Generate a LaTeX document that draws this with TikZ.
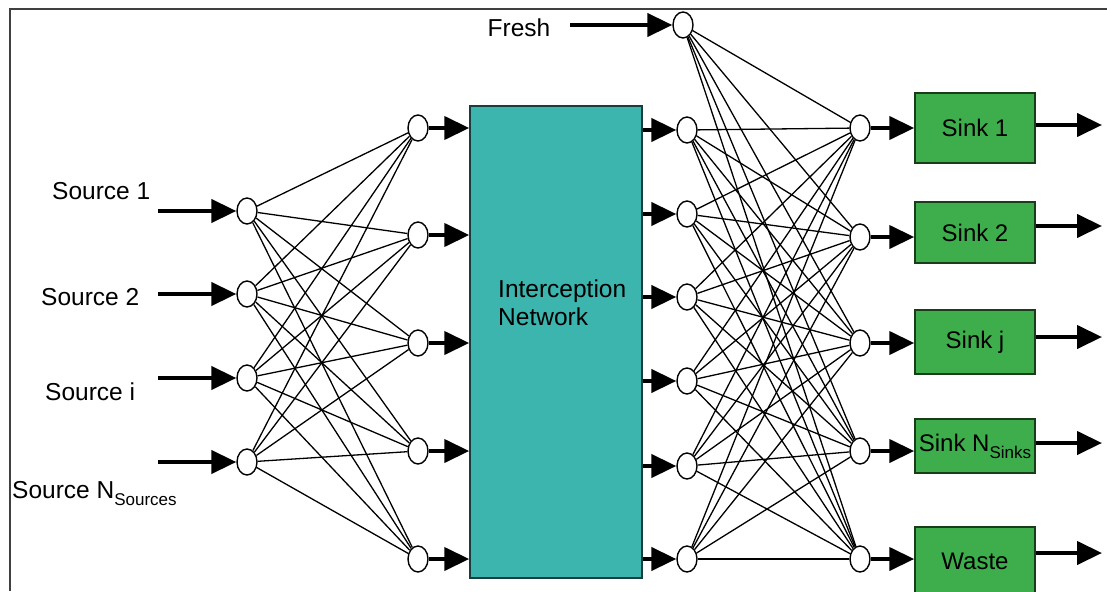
\documentclass[tikz,border=0pt]{standalone}
\usepackage{fontspec}
\setmainfont{Liberation Sans}
\usetikzlibrary{shapes.geometric,arrows.meta}
\definecolor{netteal}{RGB}{59,181,173}
\definecolor{netedge}{RGB}{25,60,60}
\definecolor{sinkgreen}{RGB}{62,174,76}
\definecolor{sinkedge}{RGB}{25,60,25}
\newcommand{\subtxt}[1]{\raisebox{-0.3em}{\fontsize{17}{17}\selectfont #1}}
\begin{document}
\begin{tikzpicture}[x=1pt,y=-1pt,
  junc/.style={ellipse,draw,line width=1.4pt,fill=white,minimum width=20pt,minimum height=26pt,inner sep=0pt},
  link/.style={line width=1.3pt},
  flow/.style={line width=4.2pt,-{Triangle[length=25pt,width=23pt]}},
  lbl/.style={font=\fontsize{24.5}{28}\selectfont,inner sep=0pt},
  sinkbox/.style={draw=sinkedge,line width=1.5pt,fill=sinkgreen,minimum width=120pt,inner sep=0pt,font=\fontsize{24}{28}\selectfont}
]
\useasboundingbox (0,0) rectangle (1107,591);
% page frame (top and left rules)
\draw[line width=2pt,black!75] (9.5,591) -- (9.5,9.5) -- (1107,9.5);

% source splitters
\node[junc] (a1) at (247,211) {};
\node[junc] (a2) at (247,294) {};
\node[junc] (a3) at (247,378) {};
\node[junc] (a4) at (247,462) {};
% mixers feeding the interception network
\node[junc] (b1) at (418,128) {};
\node[junc] (b2) at (418,235) {};
\node[junc] (b3) at (418,343) {};
\node[junc] (b4) at (418,451) {};
\node[junc] (b5) at (418,559) {};
% interception network
\node[draw=netedge,line width=1.5pt,fill=netteal,minimum width=172pt,minimum height=472pt,inner sep=0pt] (net) at (556,342) {};
\node[lbl,align=left,anchor=west,font=\fontsize{24.5}{28}\selectfont] (nettxt) at (498,303) {Interception\\Network};
% splitters after the network
\node[junc] (c0) at (683,25) {};
\node[junc] (c1) at (687,130) {};
\node[junc] (c2) at (687,214) {};
\node[junc] (c3) at (687,297) {};
\node[junc] (c4) at (687,381) {};
\node[junc] (c5) at (687,466) {};
\node[junc] (c6) at (687,559) {};
% sink mixers
\node[junc] (d1) at (860,128) {};
\node[junc] (d2) at (860,237) {};
\node[junc] (d3) at (860,343) {};
\node[junc] (d4) at (860,451) {};
\node[junc] (d5) at (860,559) {};
% sinks
\node[sinkbox,minimum height=70pt] (s1) at (975,128) {Sink 1};
\node[sinkbox,minimum height=61pt] (s2) at (975,232.5) {Sink 2};
\node[sinkbox,minimum height=64pt] (s3) at (975,342) {Sink j};
\node[sinkbox,minimum height=54pt] (s4) at (975,446) {Sink N\subtxt{Sinks}};
\node[sinkbox,minimum height=68pt] (s5) at (975,561) {Waste};

% labels
\node[lbl,anchor=west] (l1) at (52,191) {Source 1};
\node[lbl,anchor=west] (l2) at (41,297) {Source 2};
\node[lbl,anchor=west] (l3) at (45,392) {Source i};
\node[lbl,anchor=base west] (l4) at (12,498) {Source N\subtxt{Sources}};
\node[lbl] (lf) at (519,28) {Fresh};

% inlet arrows
\coordinate (in1) at (158,211);
\coordinate (in2) at (158,294);
\coordinate (in3) at (158,378);
\coordinate (in4) at (158,462);
\foreach \i in {1,...,4} \draw[flow] (in\i) -- (a\i);
\coordinate (fin) at (570,25);
\draw[flow] (fin) -- (c0);

% superstructure links
\foreach \i in {1,...,4} \foreach \j in {1,...,5} \draw[link] (a\i) -- (b\j);
\foreach \i in {0,...,6} \foreach \j in {1,...,5} \draw[link] (c\i) -- (d\j);

% flows into and out of the network
\foreach \j in {1,...,5} \draw[flow] (b\j) -- (b\j -| net.west);
\foreach \j in {1,...,6} \draw[flow] (c\j -| net.east) -- (c\j);
% flows into sinks
\foreach \j in {1,...,5} \draw[flow] (d\j) -- (d\j -| s\j.west);
% outlet arrows
\coordinate (o1) at (1102,125);
\coordinate (o2) at (1102,226);
\coordinate (o3) at (1102,337);
\coordinate (o4) at (1102,443);
\coordinate (o5) at (1102,553);
\foreach \j in {1,...,5} \draw[flow] (o\j -| s\j.east) -- (o\j);
\end{tikzpicture}
\end{document}
